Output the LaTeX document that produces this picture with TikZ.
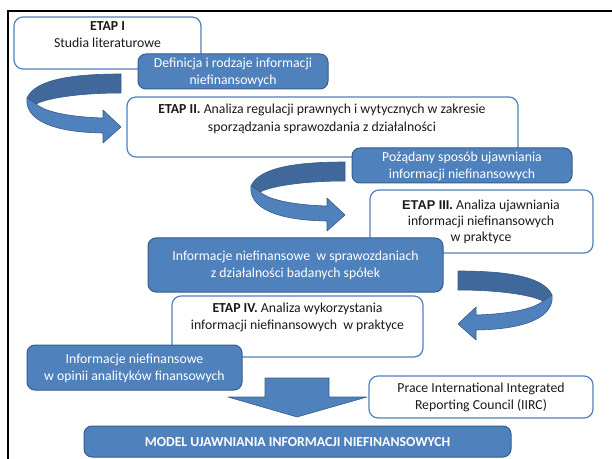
\documentclass[tikz,border=0pt]{standalone}
\usepackage{fontspec}
\setmainfont{Carlito}
\newfontfamily\arialf{Liberation Sans}
\definecolor{obl}{HTML}{4F81BD}
\definecolor{obd}{HTML}{385D8A}
\definecolor{oback}{HTML}{40689A}
\definecolor{otxt}{HTML}{1A1A1A}
\begin{document}
\begin{tikzpicture}[x=1bp,y=-1bp,
  wbox/.style={draw=obl, line width=1.2bp, fill=white, rounded corners=9bp},
  bbox/.style={draw=obd, line width=1bp, fill=obl, rounded corners=8bp},
  txt/.style={align=center, font=\fontsize{13.8}{17.5}\selectfont, text=otxt, inner sep=0pt},
  wtxt/.style={txt, text=white},
  arrfront/.style={fill=obl, draw=obd, line width=0.6bp, line join=round},
  arrback/.style={fill=oback, draw=obd, line width=0.6bp, line join=round},
  pics/curvarrow/.style={code={
    \draw[arrback] (121,74) .. controls (70,74) and (35,80) .. (27,98)
      -- (36,104) .. controls (50,97) and (85,93) .. (121,93) -- cycle;
    \draw[arrfront] (27,98) .. controls (25,114) and (40,132) .. (103,133)
      -- (103,143) -- (121,127) -- (103,110) -- (103,118)
      .. controls (70,117) and (45,112) .. (36,104) -- cycle;
  }}]
\useasboundingbox (0,0) rectangle (612,459);
\fill[white] (0,0) rectangle (612,459);
\draw[line width=2.5bp] (8,459) -- (8,11) -- (612,11);

% ETAP I
\draw[wbox] (14,17) rectangle (201,69);
\node[txt] (t1) at (107.5,34.5) {\textbf{ETAP I}\\Studia literaturowe};
% Definicja
\draw[bbox] (138,54) rectangle (328,89);
\node[wtxt] (d1) at (233,72.5) {Definicja i rodzaje informacji\\niefinansowych};
% Arrow 1
\pic (a1) at (0,0) {curvarrow};
% ETAP II
\draw[wbox] (127,97) rectangle (518,157);
\node[txt] (t2) at (322,119) {\textbf{ETAP II.} Analiza regulacji prawnych i wytycznych w zakresie\\sporządzania sprawozdania z działalności};
% Pozadany
\draw[bbox] (352,148) rectangle (572,183);
\node[wtxt] (d2) at (462,166.5) {Pożądany sposób ujawniania\\informacji niefinansowych};
% Arrow 2
\pic (a2) at (224,88) {curvarrow};
% ETAP III
\draw[wbox] (370,190) rectangle (593,253);
\node[txt, font=\fontsize{13.8}{16.2}\selectfont] (t3) at (481,222) {{\arialf\bfseries\fontsize{12.8}{16}\selectfont ETAP III.} Analiza ujawniania\\informacji niefinansowych\\w praktyce};
% Sprawozdaniach
\draw[bbox] (148,238) rectangle (443,292);
\node[wtxt] (d3) at (295.5,265.5) {Informacje niefinansowe \ w sprawozdaniach\\z działalności badanych spółek};
% Arrow 3 (mirrored)
\pic[xscale=-1] (a3) at (579,197) {curvarrow};
% ETAP IV
\draw[wbox] (172,296) rectangle (423,357);
\node[txt] (t4) at (297.5,317.5) {\textbf{ETAP IV.} Analiza wykorzystania\\informacji niefinansowych \ w praktyce};
% Opinii
\draw[bbox] (27,345) rectangle (242,390);
\node[wtxt] (d4) at (134.5,368.5) {Informacje niefinansowe\\w opinii analityków finansowych};
% Down arrow
\draw[arrfront] (265,378) -- (329,378) -- (329,397) -- (367,397) -- (297,417)
  -- (228,397) -- (265,397) -- cycle;
% Prace
\draw[wbox] (369,376) rectangle (593,418);
\node[txt] (t5) at (481,397.5) {Prace International Integrated\\Reporting Council (IIRC)};
% MODEL
\draw[bbox] (84,426) rectangle (511,457);
\node[wtxt, font=\fontsize{13.8}{17}\selectfont\bfseries] (m) at (297.5,442) {MODEL UJAWNIANIA INFORMACJI NIEFINANSOWYCH};
\end{tikzpicture}
\end{document}
